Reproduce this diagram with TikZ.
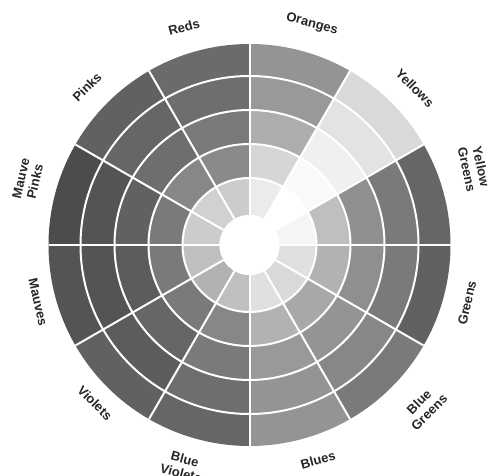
\documentclass[tikz,border=0pt]{standalone}
\usepackage{fontspec}
\setmainfont{Liberation Sans}
\newcommand\wseg[4]{\fill[black!#4] (#1:#2) arc[start angle=#1, end angle=#1+30, radius=#2] -- ({#1+30}:#3) arc[start angle=#1+30, end angle=#1, radius=#3] -- cycle;}
\newcommand\wsector[6]{%
  \wseg{#1}{169}{201}{#2}%
  \wseg{#1}{135}{169}{#3}%
  \wseg{#1}{101}{135}{#4}%
  \wseg{#1}{67}{101}{#5}%
  \wseg{#1}{30}{67}{#6}}
\begin{document}
\begin{tikzpicture}[x=1pt,y=1pt,
  lab/.style={font=\fontsize{13}{14.5}\selectfont\bfseries, text=black!85, align=center, inner sep=0pt},
  wline/.style={white, line width=2pt}]
\useasboundingbox (0,0) rectangle (491,-476);
\fill[white] (0,0) rectangle (491,-476);
\begin{scope}[shift={(249.5,-245)}]
  % sectors: start angle, outer -> inner darkness
  \wsector{0}{60}{52}{44}{25}{4}      % Yellow Greens
  \wsector{30}{15}{11}{6}{2}{0}       % Yellows
  \wsector{60}{42}{40}{32}{16}{8}     % Oranges
  \wsector{90}{58}{57}{52}{46}{20}    % Reds
  \wsector{120}{62}{60}{57}{47}{18}   % Pinks
  \wsector{150}{70}{67}{62}{52}{20}   % Mauve Pinks
  \wsector{180}{67}{67}{64}{52}{25}   % Mauves
  \wsector{210}{62}{64}{60}{52}{30}   % Violets
  \wsector{240}{60}{57}{52}{47}{25}   % Blue Violets
  \wsector{270}{42}{42}{40}{30}{12}   % Blues
  \wsector{300}{52}{47}{42}{34}{15}   % Blue Greens
  \wsector{330}{62}{52}{44}{30}{12}   % Greens
  \foreach \r in {67,101,135,169} \draw[wline] (0,0) circle[radius=\r];
  \foreach \a in {0,30,...,330} \draw[wline] (\a:30) -- (\a:201);
  \fill[white] (0,0) circle[radius=30];
\end{scope}
\node[lab, rotate=15]  (reds)     at (184,-27)  {Reds};
\node[lab, rotate=-15] (oranges)  at (312,-24)  {Oranges};
\node[lab, rotate=-45] (yellows)  at (415,-88)  {Yellows};
\node[lab, rotate=-78] (ygreens)  at (474,-168) {Yellow\\Greens};
\node[lab, rotate=77]  (greens)   at (467,-303) {Greens};
\node[lab, rotate=45]  (bgreens)  at (424,-407) {Blue\\Greens};
\node[lab, rotate=15]  (blues)    at (318,-460) {Blues};
\node[lab, rotate=-15] (bviolets) at (183,-466) {Blue\\Violets};
\node[lab, rotate=-45] (violets)  at (95,-403)  {Violets};
\node[lab, rotate=-77] (mauves)   at (38,-302)  {Mauves};
\node[lab, rotate=77]  (mpinks)   at (28,-180)  {Mauve\\Pinks};
\node[lab, rotate=45]  (pinks)    at (87,-87)   {Pinks};
\end{tikzpicture}
\end{document}
